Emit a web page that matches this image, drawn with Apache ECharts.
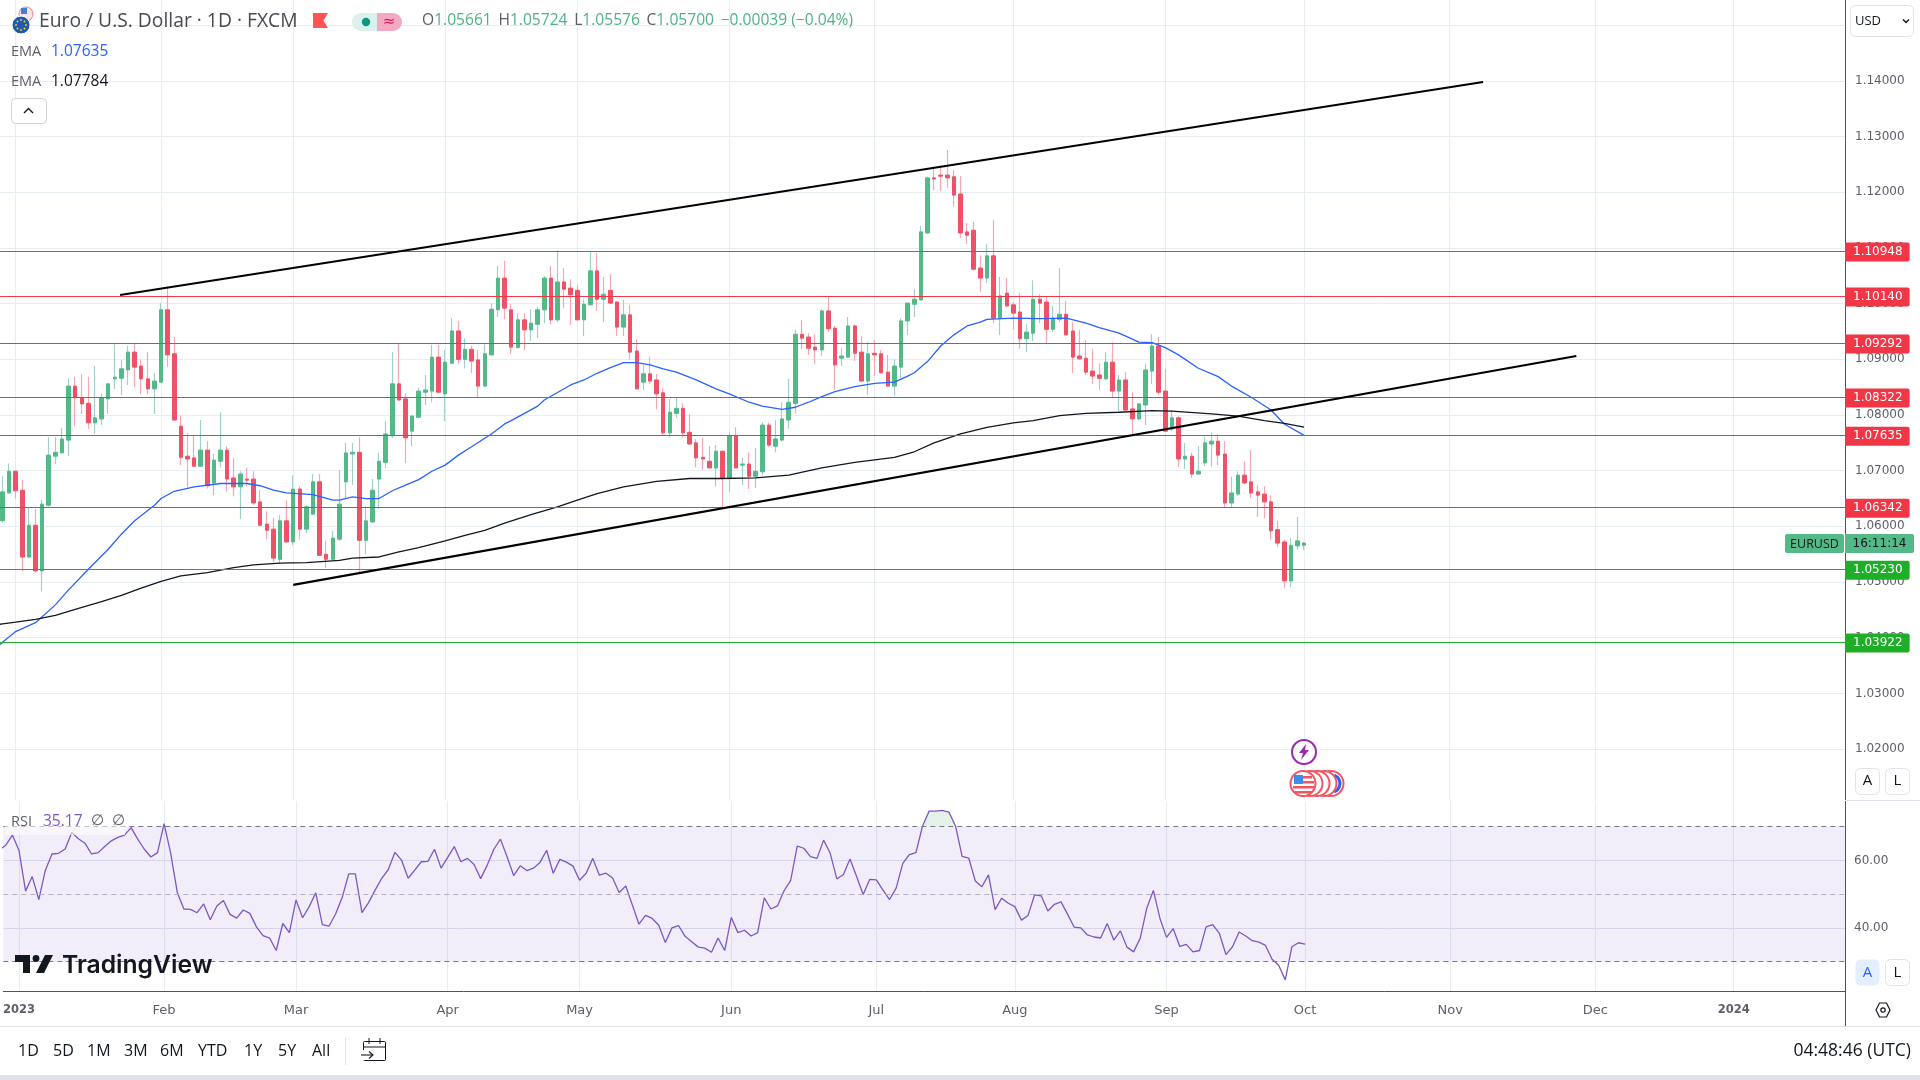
<!DOCTYPE html>
<html>
<head>
<meta charset="utf-8">
<title>EUR/USD</title>
<script src="https://cdn.jsdelivr.net/npm/echarts@6/dist/echarts.min.js"></script>
<style>
html, body { margin: 0; padding: 0; background: #fff; }
#chart { width: 1920px; height: 1080px; }
</style>
</head>
<body>
<div id="chart"></div>
<script>
// bar number 0 is 2 Jan 2023, weekdays only
var firstBar = -2;

var opens = [
  1.0610,1.0660,1.0699,1.0665,1.0545,1.0602,1.0520,1.0638,1.0726,1.0732,
  1.0755,1.0852,1.0831,1.0821,1.0786,1.0793,1.0829,1.0865,1.0866,1.0881,
  1.0913,1.0888,1.0865,1.0847,1.0859,1.0989,1.0910,1.0780,1.0726,1.0723,
  1.0708,1.0737,1.0678,1.0717,1.0737,1.0687,1.0671,1.0685,1.0685,1.0644,
  1.0604,1.0595,1.0541,1.0610,1.0572,1.0667,1.0595,1.0622,1.0680,1.0550,
  1.0541,1.0577,1.0680,1.0730,1.0733,1.0575,1.0608,1.0685,1.0715,1.0763,
  1.0856,1.0829,1.0771,1.0796,1.0841,1.0843,1.0904,1.0838,1.0893,1.0951,
  1.0900,1.0918,1.0899,1.0852,1.0908,1.0989,1.1046,1.0989,1.0921,1.0971,
  1.0953,1.0963,1.0989,1.1046,1.0971,1.1039,1.1028,1.1024,1.0971,1.0998,
  1.1059,1.1008,1.1024,1.1003,1.0958,1.0980,1.0915,1.0859,1.0874,1.0863,
  1.0840,1.0768,1.0803,1.0812,1.0769,1.0750,1.0724,1.0717,1.0705,1.0735,
  1.0687,1.0763,1.0710,1.0712,1.0690,1.0698,1.0782,1.0744,1.0755,1.0791,
  1.0821,1.0945,1.0940,1.0922,1.0917,1.0987,1.0956,1.0902,1.0904,1.0960,
  1.0913,1.0861,1.0911,1.0910,1.0877,1.0852,1.0886,1.0969,1.0999,1.1007,
  1.1127,1.1226,1.1231,1.1231,1.1228,1.1197,1.1129,1.1132,1.1064,1.1046,
  1.1086,1.0974,1.1019,1.0998,1.0985,1.0937,1.0947,1.1008,1.1003,1.0954,
  1.0972,1.0981,1.0951,1.0906,1.0902,1.0879,1.0872,1.0865,1.0895,1.0843,
  1.0863,1.0811,1.0793,1.0818,1.0879,1.0924,1.0843,1.0775,1.0795,1.0721,
  1.0726,1.0694,1.0714,1.0748,1.0753,1.0730,1.0642,1.0658,1.0692,1.0680,
  1.0662,1.0658,1.0644,1.0594,1.0572,1.0502,1.0565,1.05661
];
var closes = [
  1.0662,1.0699,1.0664,1.0545,1.0602,1.0520,1.0640,1.0728,1.0733,1.0757,
  1.0852,1.0831,1.0820,1.0786,1.0795,1.0831,1.0856,1.0868,1.0883,1.0913,
  1.0886,1.0865,1.0847,1.0861,1.0989,1.0908,1.0791,1.0724,1.0721,1.0708,
  1.0737,1.0673,1.0719,1.0737,1.0685,1.0671,1.0694,1.0683,1.0642,1.0602,
  1.0593,1.0543,1.0610,1.0572,1.0667,1.0595,1.0635,1.0680,1.0548,1.0541,
  1.0579,1.0640,1.0732,1.0733,1.0575,1.0610,1.0665,1.0717,1.0766,1.0856,
  1.0827,1.0759,1.0798,1.0843,1.0845,1.0904,1.0841,1.0895,1.0951,1.0900,
  1.0918,1.0897,1.0852,1.0910,1.0990,1.1046,1.0992,1.0922,1.0971,1.0953,
  1.0965,1.0989,1.1046,1.0971,1.1039,1.1026,1.1016,1.0971,1.0999,1.1059,
  1.1008,1.1017,1.1001,1.0958,1.0980,1.0913,1.0847,1.0874,1.0861,1.0838,
  1.0768,1.0805,1.0812,1.0768,1.0748,1.0723,1.0721,1.0705,1.0735,1.0687,
  1.0763,1.0705,1.0712,1.0690,1.0699,1.0782,1.0746,1.0757,1.0793,1.0823,
  1.0945,1.0938,1.0920,1.0917,1.0987,1.0955,1.0890,1.0906,1.0960,1.0911,
  1.0861,1.0910,1.0908,1.0876,1.0852,1.0888,1.0969,1.1001,1.1008,1.1129,
  1.1226,1.1224,1.1229,1.1226,1.1195,1.1127,1.1123,1.1062,1.1046,1.1086,
  1.0974,1.1014,1.0996,1.0983,1.0937,1.0949,1.1008,1.1001,1.0954,1.0974,
  1.0981,1.0944,1.0904,1.0901,1.0877,1.0870,1.0866,1.0895,1.0843,1.0863,
  1.0809,1.0793,1.0820,1.0881,1.0924,1.0841,1.0771,1.0795,1.0721,1.0726,
  1.0694,1.0699,1.0750,1.0753,1.0728,1.0642,1.0660,1.0692,1.0678,1.0660,
  1.0656,1.0644,1.0592,1.0570,1.0502,1.0566,1.0574,1.05700
];
var lows = [
  1.0607,1.0659,1.0650,1.0520,1.0542,1.0517,1.0483,1.0636,1.0712,1.0731,
  1.0726,1.0780,1.0802,1.0775,1.0766,1.0782,1.0802,1.0847,1.0836,1.0854,
  1.0850,1.0838,1.0838,1.0802,1.0858,1.0886,1.0790,1.0710,1.0670,1.0707,
  1.0707,1.0668,1.0656,1.0706,1.0662,1.0654,1.0613,1.0672,1.0639,1.0600,
  1.0577,1.0536,1.0534,1.0571,1.0566,1.0577,1.0588,1.0620,1.0547,1.0525,
  1.0539,1.0574,1.0651,1.0674,1.0516,1.0550,1.0606,1.0631,1.0705,1.0759,
  1.0825,1.0714,1.0744,1.0795,1.0818,1.0823,1.0839,1.0789,1.0892,1.0892,
  1.0884,1.0875,1.0832,1.0851,1.0907,1.0976,1.0972,1.0910,1.0920,1.0917,
  1.0933,1.0938,1.0965,1.0963,1.0967,1.0992,1.0962,1.0970,1.0942,1.0997,
  1.0987,1.0967,1.0999,1.0942,1.0942,1.0900,1.0846,1.0845,1.0856,1.0810,
  1.0762,1.0760,1.0795,1.0760,1.0746,1.0706,1.0701,1.0704,1.0672,1.0634,
  1.0662,1.0704,1.0674,1.0667,1.0669,1.0692,1.0742,1.0733,1.0753,1.0775,
  1.0803,1.0918,1.0908,1.0892,1.0906,1.0949,1.0845,1.0888,1.0902,1.0897,
  1.0860,1.0836,1.0870,1.0874,1.0851,1.0834,1.0866,1.0944,1.0976,1.1005,
  1.1126,1.1204,1.1202,1.1208,1.1174,1.1118,1.1107,1.1060,1.1021,1.1037,
  1.0965,1.0944,1.0994,1.0953,1.0919,1.0913,1.0933,1.0965,1.0929,1.0949,
  1.0967,1.0943,1.0875,1.0899,1.0872,1.0856,1.0845,1.0863,1.0832,1.0804,
  1.0807,1.0764,1.0791,1.0782,1.0856,1.0836,1.0770,1.0771,1.0707,1.0703,
  1.0687,1.0693,1.0708,1.0707,1.0710,1.0633,1.0633,1.0655,1.0676,1.0651,
  1.0617,1.0615,1.0576,1.0563,1.0489,1.0491,1.0558,1.05576
];
var highs = [
  1.0690,1.0713,1.0700,1.0683,1.0635,1.0631,1.0648,1.0760,1.0760,1.0777,
  1.0866,1.0869,1.0873,1.0869,1.0888,1.0839,1.0857,1.0928,1.0899,1.0924,
  1.0929,1.0900,1.0913,1.0875,1.1001,1.1032,1.0940,1.0799,1.0767,1.0762,
  1.0791,1.0753,1.0730,1.0805,1.0744,1.0723,1.0699,1.0705,1.0699,1.0665,
  1.0627,1.0615,1.0620,1.0646,1.0692,1.0672,1.0638,1.0694,1.0694,1.0574,
  1.0592,1.0701,1.0750,1.0750,1.0760,1.0636,1.0685,1.0732,1.0789,1.0913,
  1.0929,1.0839,1.0800,1.0849,1.0872,1.0926,1.0926,1.0917,1.0974,1.0969,
  1.0938,1.0924,1.0917,1.0927,1.1001,1.1068,1.1077,1.0999,1.0983,1.0983,
  1.0990,1.0994,1.1050,1.1068,1.1096,1.1064,1.1044,1.1033,1.1008,1.1093,
  1.1091,1.1048,1.1053,1.1004,1.1007,1.0998,1.0936,1.0890,1.0904,1.0874,
  1.0849,1.0829,1.0832,1.0821,1.0802,1.0757,1.0759,1.0744,1.0746,1.0736,
  1.0769,1.0778,1.0723,1.0733,1.0741,1.0787,1.0786,1.0791,1.0823,1.0865,
  1.0953,1.0971,1.0947,1.0945,1.0990,1.1012,1.0960,1.0920,1.0976,1.0963,
  1.0942,1.0931,1.0935,1.0917,1.0908,1.0900,1.0974,1.1002,1.1026,1.1140,
  1.1228,1.1245,1.1249,1.1276,1.1240,1.1229,1.1145,1.1147,1.1087,1.1107,
  1.1150,1.1048,1.1046,1.1003,1.1019,1.0963,1.1042,1.1017,1.1014,1.0996,
  1.1064,1.1005,1.0967,1.0953,1.0935,1.0919,1.0893,1.0913,1.0931,1.0872,
  1.0877,1.0841,1.0821,1.0892,1.0945,1.0940,1.0883,1.0809,1.0798,1.0750,
  1.0732,1.0744,1.0761,1.0768,1.0766,1.0753,1.0689,1.0699,1.0717,1.0737,
  1.0674,1.0672,1.0656,1.0610,1.0576,1.0579,1.0617,1.05724
];
// rsi starts one bar earlier, that candle is off screen
var firstRsiBar = -3;
var rsiValues = [
  63.1,
  64.5,67.5,62.9,50.9,55.2,48.4,57.1,61.9,62.1,63.4,
  68.3,66.4,65.1,61.9,62.3,64.1,65.8,66.8,67.5,69.7,
  66.3,63.3,61.0,62.3,70.9,62.1,50.5,45.6,45.5,44.5,
  47.1,42.4,46.5,48.1,44.0,42.9,45.3,44.3,40.3,37.7,
  37.0,33.3,41.3,38.6,48.3,43.0,46.3,50.4,41.0,40.5,
  44.1,49.0,56.0,56.0,44.5,47.5,51.2,54.7,57.3,62.4,
  60.1,54.7,57.1,59.6,59.7,63.3,57.7,60.9,64.1,59.6,
  60.6,58.8,54.6,58.6,63.3,66.3,61.1,55.5,58.4,57.0,
  57.7,59.4,63.0,56.2,60.3,59.5,58.3,54.1,56.2,60.6,
  55.6,56.2,54.8,50.5,52.4,46.8,41.1,43.7,42.8,40.8,
  35.7,40.0,40.7,37.5,35.9,34.3,34.0,32.8,37.0,33.3,
  43.1,38.6,39.3,37.6,38.6,48.9,45.6,46.5,51.0,54.0,
  64.2,63.6,61.1,60.6,66.0,62.1,54.5,55.8,60.4,55.2,
  49.9,54.4,54.2,51.2,48.4,51.8,59.1,61.7,62.3,70.2,
  74.6,74.6,74.8,74.3,70.2,61.2,60.7,53.9,52.2,55.7,
  45.4,48.8,47.3,46.3,42.3,43.7,49.8,49.5,45.0,47.0,
  47.7,44.0,40.2,40.0,37.9,37.3,37.0,41.3,36.4,39.1,
  34.3,32.9,36.9,45.8,51.1,42.8,37.2,39.8,34.5,35.1,
  32.9,33.3,40.3,41.0,38.4,32.1,34.4,38.8,37.6,36.2,
  35.8,34.8,30.7,28.9,24.6,34.4,35.6,35.17
];

// ema curves, read every few bars
var emaFastBars = [-3,-2,0,3,6,8,11,14,16,18,21,22,24,27,31,35,37,39,41,45,48,49,51,53,55,57,59,61,63,65,67,69,
  72,74,75,79,80,84,86,88,90,92,94,96,98,100,103,106,108,111,113,116,118,120,122,124,127,130,133,135,
  136,138,140,142,144,146,147,151,155,159,162,164,167,170,172,174,176,179,182,184,187,190,192,195];
var emaFastValues = [1.0381,1.0392,1.0411,1.0427,1.0459,1.0486,1.0523,1.0559,1.0586,1.0610,1.0638,1.0650,1.0663,1.0671,1.0677,1.0677,1.0673,1.0665,1.0660,1.0657,1.0647,1.0647,1.0653,1.0650,1.0650,1.0664,1.0674,1.0684,1.0699,1.0710,1.0728,1.0743,
  1.0766,1.0784,1.0790,1.0816,1.0827,1.0854,1.0863,1.0875,1.0885,1.0894,1.0894,1.0890,1.0883,1.0877,1.0863,1.0847,1.0838,1.0823,1.0816,1.0810,1.0814,1.0823,1.0833,1.0842,1.0851,1.0857,1.0859,1.0870,
  1.0876,1.0896,1.0924,1.0944,1.0960,1.0967,1.0972,1.0974,1.0973,1.0974,1.0965,1.0957,1.0947,1.0931,1.0930,1.0921,1.0908,1.0884,1.0869,1.0852,1.0832,1.0809,1.0784,1.07635];
var emaSlowBars = [-3,-2,0,3,6,9,13,16,19,22,25,29,33,36,40,44,49,51,55,58,61,65,68,
  71,74,78,82,85,88,92,97,102,107,112,117,122,127,133,136,
  139,143,147,151,154,158,162,167,172,175,181,185,189,192,195];
var emaSlowValues = [1.0423,1.0425,1.0428,1.0433,1.0440,1.0451,1.0465,1.0476,1.0489,1.0501,1.0511,1.0517,1.0526,1.0531,1.0534,1.0535,1.0539,1.0543,1.0545,1.0554,1.0562,1.0574,1.0584,
  1.0593,1.0606,1.0621,1.0635,1.0647,1.0659,1.0671,1.0681,1.0686,1.0686,1.0687,1.0692,1.0705,1.0715,1.0724,1.0734,
  1.0750,1.0766,1.0778,1.0786,1.0790,1.0799,1.0803,1.0805,1.0808,1.0807,1.0802,1.0798,1.0790,1.0785,1.07784];

// drawn trend lines: bar number, price
var upperTrendBars = [15.8, 222.1];
var upperTrendPrices = [1.10156, 1.13982];
var lowerTrendBars = [42, 236.2];
var lowerTrendPrices = [1.0495, 1.0906];

var redLevels = [1.10948, 1.10140, 1.09292, 1.08322, 1.07635, 1.06342];
var greenLevels = [1.05230, 1.03922];

var priceTicks = [1.02,1.03,1.04,1.05,1.06,1.07,1.08,1.09,1.10,1.11,1.12,1.13,1.14,1.15];
var rsiTicks = [40, 60];
var timeTickBars = [0,22,42,65,85,108,130,151,174,195,217,239,260];
var timeTickLabels = ['2023','Feb','Mar','Apr','May','Jun','Jul','Aug','Sep','Oct','Nov','Dec','2024'];
var rangeButtons = [['1D',18],['5D',53],['1M',87],['3M',124],['6M',160],['YTD',198],['1Y',244],['5Y',278],['All',312]];

var GREEN = '#53b987', RED = '#ef5166', WICK_GREEN = '#a3cfc9', WICK_RED = '#f7a6b2';
var GRID = '#e6edf3', AXIS = '#50535e', TEXT = '#5d606b', PANE = '#e0e3eb';
var FONT = 'DejaVu Sans';
var UIFONT = 'Open Sans';
var BAR_MIN = -2.376, BAR_MAX = 276.87;

var wickData = [], bodyData = [];
for (var i = 0; i < opens.length; i++) {
    var bar = firstBar + i;
    wickData.push([bar, opens[i], closes[i], lows[i], highs[i]]);
    bodyData.push([bar, opens[i], closes[i], Math.min(opens[i], closes[i]), Math.max(opens[i], closes[i])]);
}
var rsiData = rsiValues.map(function (v, i) { return [firstRsiBar + i, v]; });
var rsiHigh = rsiData.filter(function (p) { return p[0] >= 137 && p[0] <= 142; });

function zip(a, b) {
    return a.map(function (v, i) { return [v, b[i]]; });
}

function levelLine(v, color) {
    return {
        yAxis: v,
        lineStyle: { color: color, width: 1.2, type: 'solid' },
        label: {
            show: true, position: 'end', distance: 0, offset: [0, 1],
            formatter: v.toFixed(5), color: '#fff',
            fontFamily: FONT, fontSize: 12, lineHeight: 13,
            backgroundColor: color, borderRadius: [0, 2, 2, 0],
            padding: [3, 7, 3, 8]
        }
    };
}

function txt(x, y, s, o) {
    o = o || {};
    return {
        type: 'text', z: o.z || 100, x: x, y: y,
        style: {
            text: s, fill: o.color || '#131722',
            font: (o.weight || 'normal') + ' ' + (o.size || 13) + 'px "' + (o.family || UIFONT) + '"',
            textAlign: o.align || 'left', textVerticalAlign: 'middle', verticalAlign: 'middle'
        }
    };
}
function box(x, y, w, h, fill, stroke, r, z) {
    return {
        type: 'rect', z: z || 99,
        shape: { x: x, y: y, width: w, height: h, r: r || 0 },
        style: { fill: fill, stroke: stroke || null, lineWidth: 1 }
    };
}
function seg(pts, color, width, z) {
    return { type: 'polyline', z: z || 100, shape: { points: pts }, style: { stroke: color, lineWidth: width || 1, fill: null } };
}
function poly(pts, color, z) {
    return { type: 'polygon', z: z || 100, shape: { points: pts }, style: { fill: color } };
}
function dot(x, y, r, fill, stroke, w, z) {
    return { type: 'circle', z: z || 100, shape: { cx: x, cy: y, r: r }, style: { fill: fill, stroke: stroke || null, lineWidth: w || 1 } };
}

var VAL = '#4fb286';
var graphics = [
    // legend icons
    dot(26, 14, 7, '#fbe3e5', '#e9808a', 1),
    box(21, 8, 6, 6, '#3d7fd9', null, 0, 101),
    dot(21, 25, 9, '#1e5bb0', '#fff', 1, 102),
    dot(21, 20, 0.9, '#f5d327', null, 0, 103),
    dot(26, 25, 0.9, '#f5d327', null, 0, 103),
    dot(21, 30, 0.9, '#f5d327', null, 0, 103),
    dot(16, 25, 0.9, '#f5d327', null, 0, 103),
    dot(24.5, 21.5, 0.9, '#f5d327', null, 0, 103),
    dot(17.5, 21.5, 0.9, '#f5d327', null, 0, 103),
    dot(24.5, 28.5, 0.9, '#f5d327', null, 0, 103),
    dot(17.5, 28.5, 0.9, '#f5d327', null, 0, 103),
    txt(39, 22, 'Euro / U.S. Dollar \u00b7 1D \u00b7 FXCM', { size: 19.3, color: '#484b55' }),
    poly([[313, 13], [328, 13], [323.5, 20.5], [328, 28], [313, 28]], '#ff5252'),
    box(352, 13, 25, 18, '#dcf0ee', null, [9, 0, 0, 9]),
    box(377, 13, 25, 18, '#f3a9c4', null, [0, 9, 9, 0]),
    dot(366, 22, 4.2, '#089981', null, 0, 101),
    txt(389, 22, '\u2248', { size: 15, color: '#d81b60', align: 'center', family: FONT }),
    {
        type: 'text', z: 100, x: 422, y: 21,
        style: {
            text: '{g|O}{v|1.05661}  {g|H}{v|1.05724}  {g|L}{v|1.05576}  {g|C}{v|1.05700}  {v|\u22120.00039 (\u22120.04%)}',
            textVerticalAlign: 'middle', verticalAlign: 'middle',
            rich: {
                g: { fill: '#5d606b', font: '15.6px "' + UIFONT + '"' },
                v: { fill: VAL, font: '15.6px "' + UIFONT + '"' }
            }
        }
    },
    txt(11, 52, 'EMA', { size: 14.5, color: '#5d606b' }),
    txt(51, 52, '1.07635', { size: 15.5, color: '#2962ff' }),
    txt(11, 82, 'EMA', { size: 14.5, color: '#5d606b' }),
    txt(51, 82, '1.07784', { size: 15.5, color: '#131722' }),
    box(11.5, 98.5, 35, 25, '#fff', '#d1d4dc', 4),
    seg([[24, 113], [28.5, 108.5], [33, 113]], '#131722', 1.4),

    // right hand scale chrome
    box(1850.5, 5.5, 63, 31, '#fff', '#e0e3eb', 5),
    txt(1855, 21, 'USD', { size: 13, family: UIFONT }),
    seg([[1903, 19.5], [1906, 22.5], [1909, 19.5]], '#131722', 1.5),
    box(1785, 534, 59, 19, GREEN, null, 2),
    txt(1814.5, 544, 'EURUSD', { size: 12.5, color: '#131722', align: 'center', family: UIFONT }),
    box(1845, 534, 69, 19, GREEN, null, [0, 2, 2, 0]),
    txt(1879.5, 544, '16:11:14', { size: 12, color: '#131722', align: 'center', family: FONT }),
    box(1855.5, 768.5, 24, 26, '#fff', '#e0e3eb', 5),
    txt(1867.5, 781, 'A', { size: 15, align: 'center' }),
    box(1885.5, 768.5, 24, 26, '#fff', '#e0e3eb', 5),
    txt(1897.5, 781, 'L', { size: 15, align: 'center' }),
    box(1855.5, 959.5, 24, 26, '#e3effd', null, 5),
    txt(1867.5, 973, 'A', { size: 15, color: '#2962ff', align: 'center' }),
    box(1885.5, 959.5, 24, 26, '#fff', '#e0e3eb', 5),
    txt(1897.5, 973, 'L', { size: 15, align: 'center' }),

    // panes
    seg([[1845, 800.5], [1920, 800.5]], PANE, 1),
    seg([[1845.5, 991], [1845.5, 1026]], AXIS, 1),
    seg([[0, 1026.5], [1920, 1026.5]], PANE, 1),
    box(0, 1075, 1920, 5, '#dfe3ec', null, 0),
    { type: 'polygon', z: 100, shape: { points: [[1876, 1010], [1879.5, 1003], [1886.5, 1003], [1890, 1010], [1886.5, 1017], [1879.5, 1017]] }, style: { fill: '#fff', stroke: '#131722', lineWidth: 1.2 } },
    dot(1883, 1010, 2.2, '#fff', '#131722', 1.2),

    // rsi legend and logo
    box(5, 815, 120, 20, 'rgba(255,255,255,0.55)', null, 0, 90),
    txt(11, 821.5, 'RSI', { size: 14.5, color: '#5d606b' }),
    txt(43, 821.5, '35.17', { size: 15.5, color: '#7e57c2' }),
    txt(91, 821.5, '\u2205', { size: 15, color: '#5d606b', family: FONT }),
    txt(112, 821.5, '\u2205', { size: 15, color: '#5d606b', family: FONT }),
    poly([[15, 955], [30, 955], [30, 973], [23, 973], [23, 962], [15, 962]], '#131722'),
    dot(36, 958.5, 3.4, '#131722'),
    poly([[45, 955], [53, 955], [44, 973], [36, 973]], '#131722'),
    txt(62, 966, 'TradingView', { size: 24.7, weight: '600', family: 'Inter' }),

    // economic events
    dot(1304, 752, 12, '#fff', '#9c27b0', 2),
    poly([[1306, 744], [1299, 753], [1303, 753], [1301, 760], [1309, 750], [1305, 750]], '#9c27b0', 101),
    dot(1331, 783.5, 12.5, '#fff', '#f7525f', 2),
    { type: 'arc', z: 100, shape: { cx: 1331, cy: 783.5, r: 9, startAngle: -1.2, endAngle: 1.2 }, style: { stroke: '#2962ff', lineWidth: 3, fill: null } },
    dot(1324, 783.5, 12.5, '#fff', '#f7525f', 2),
    dot(1317, 783.5, 12.5, '#fff', '#f7525f', 2),
    dot(1310, 783.5, 12.5, '#fff', '#f7525f', 2),
    dot(1303, 783.5, 12.5, '#fff', '#f7525f', 2),
    box(1294, 775, 9, 9, '#3c8ce8', null, 0, 101),
    box(1303, 776, 9, 2.5, '#f7525f', null, 0, 101),
    box(1303, 781, 11, 2.5, '#f7525f', null, 0, 101),
    box(1293, 786, 21, 2.5, '#f7525f', null, 0, 101),
    box(1295, 791, 17, 2.5, '#f7525f', null, 0, 101),

    // toolbar
    txt(1911, 1051, '04:48:46 (UTC)', { size: 17.5, align: 'right' }),
    seg([[345.5, 1037], [345.5, 1065]], PANE, 1),
    box(363.5, 1041.5, 22, 19, null, '#131722', 1, 100),
    seg([[363, 1047], [386, 1047]], '#131722', 1),
    seg([[369, 1038], [369, 1044]], '#131722', 1),
    seg([[380, 1038], [380, 1044]], '#131722', 1),
    box(358, 1050, 8, 10, '#fff', null, 0, 100),
    seg([[361, 1055], [373, 1055]], '#131722', 1.1, 101),
    seg([[369, 1051.5], [373, 1055], [369, 1058.5]], '#131722', 1.1, 101)
];
rangeButtons.forEach(function (b) {
    graphics.push(txt(b[1], 1051, b[0], { size: 16 }));
});

var chart = echarts.init(document.getElementById('chart'));

chart.setOption({
    animation: false,
    backgroundColor: '#fff',
    textStyle: { fontFamily: FONT },
    grid: [
        { left: 0, right: 75, top: 0, height: 800 },
        { left: 0, right: 75, top: 801, height: 190 }
    ],
    xAxis: [
        {
            type: 'value', gridIndex: 0, min: BAR_MIN, max: BAR_MAX, scale: true,
            axisLine: { show: false, onZero: false }, axisLabel: { show: false },
            axisTick: { show: false, customValues: timeTickBars },
            splitLine: { show: true, lineStyle: { color: GRID } }
        },
        {
            type: 'value', gridIndex: 1, min: BAR_MIN, max: BAR_MAX, scale: true,
            axisLine: { show: true, onZero: false, lineStyle: { color: AXIS, width: 1 } },
            axisTick: { show: false, customValues: timeTickBars },
            axisLabel: {
                show: true, customValues: timeTickBars, margin: 13, fontSize: 13, color: TEXT, fontFamily: FONT,
                showMinLabel: true, showMaxLabel: true, hideOverlap: false,
                formatter: function (v) {
                    var s = timeTickLabels[timeTickBars.indexOf(v)];
                    return s === '2023' || s === '2024' ? '{y|' + s + '}' : s;
                },
                rich: { y: { fontWeight: 'bold', fontSize: 11.5, color: TEXT, fontFamily: FONT } }
            },
            splitLine: { show: true, lineStyle: { color: GRID } }
        }
    ],
    yAxis: [
        {
            type: 'value', gridIndex: 0, position: 'right', min: 1.01085, max: 1.15455, scale: true,
            axisLine: { show: true, onZero: false, lineStyle: { color: AXIS, width: 1 } },
            axisTick: { show: false, customValues: priceTicks },
            axisLabel: {
                customValues: priceTicks, margin: 10, fontSize: 12, color: TEXT, fontFamily: FONT,
                showMinLabel: true, showMaxLabel: true, padding: [5, 0, 0, 0],
                formatter: function (v) { return v.toFixed(5); }
            },
            splitLine: { show: true, lineStyle: { color: GRID, width: 1 } }
        },
        {
            type: 'value', gridIndex: 1, position: 'right', min: 21.3, max: 77.6, scale: true,
            axisLine: { show: true, onZero: false, lineStyle: { color: AXIS, width: 1 } },
            axisTick: { show: false, customValues: rsiTicks },
            axisLabel: {
                customValues: rsiTicks, margin: 9, fontSize: 12, color: TEXT, fontFamily: FONT, padding: [3, 0, 0, 0],
                formatter: function (v) { return v.toFixed(2); }
            },
            splitLine: { show: true, lineStyle: { color: '#dfe3f0' } }
        }
    ],
    series: [
        {
            name: 'wicks', type: 'candlestick', xAxisIndex: 0, yAxisIndex: 0, data: wickData,
            barWidth: 1, z: 2, clip: true,
            itemStyle: { color: WICK_GREEN, color0: WICK_RED, borderColor: WICK_GREEN, borderColor0: WICK_RED, borderWidth: 1.2 }
        },
        {
            name: 'bodies', type: 'candlestick', xAxisIndex: 0, yAxisIndex: 0, data: bodyData,
            barWidth: 4, z: 3, clip: true,
            itemStyle: { color: GREEN, color0: RED, borderColor: GREEN, borderColor0: RED, borderWidth: 1 }
        },
        {
            name: 'EMA fast', type: 'line', xAxisIndex: 0, yAxisIndex: 0, data: zip(emaFastBars, emaFastValues),
            showSymbol: false, z: 6, lineStyle: { color: '#2962ff', width: 1.3 }
        },
        {
            name: 'EMA slow', type: 'line', xAxisIndex: 0, yAxisIndex: 0, data: zip(emaSlowBars, emaSlowValues),
            showSymbol: false, z: 6, lineStyle: { color: '#131722', width: 1.3 }
        },
        {
            name: 'levels', type: 'line', xAxisIndex: 0, yAxisIndex: 0, data: [], z: 7,
            markLine: {
                silent: true, symbol: 'none', animation: false, z: 7, precision: 6,
                data: redLevels.map(function (v) { return levelLine(v, '#f23645'); })
                    .concat(greenLevels.map(function (v) { return levelLine(v, '#1fae27'); }))
            }
        },
        {
            name: 'upper trend', type: 'line', xAxisIndex: 0, yAxisIndex: 0, data: zip(upperTrendBars, upperTrendPrices),
            showSymbol: false, z: 8, lineStyle: { color: '#000', width: 2.2 }
        },
        {
            name: 'lower trend', type: 'line', xAxisIndex: 0, yAxisIndex: 0, data: zip(lowerTrendBars, lowerTrendPrices),
            showSymbol: false, z: 8, lineStyle: { color: '#000', width: 2.2 }
        },
        {
            name: 'RSI high', type: 'line', xAxisIndex: 1, yAxisIndex: 1, data: rsiHigh, z: 3,
            showSymbol: false, lineStyle: { width: 0 },
            areaStyle: { origin: 70, color: '#e4f3ea', opacity: 1 }
        },
        {
            name: 'RSI', type: 'line', xAxisIndex: 1, yAxisIndex: 1, data: rsiData, z: 4,
            showSymbol: false, lineStyle: { color: '#7e57c2', width: 1.3 },
            markArea: {
                silent: true, animation: false,
                itemStyle: { color: 'rgba(126,87,194,0.1)' },
                data: [[{ xAxis: BAR_MIN, yAxis: 70 }, { xAxis: BAR_MAX, yAxis: 30 }]]
            },
            markLine: {
                silent: true, symbol: 'none', animation: false, label: { show: false },
                data: [
                    { yAxis: 70, lineStyle: { color: '#787b86', type: [5, 4], width: 1.2 } },
                    { yAxis: 50, lineStyle: { color: '#b5b0bf', type: [5, 4], width: 1.2 } },
                    { yAxis: 30, lineStyle: { color: '#787b86', type: [5, 4], width: 1.2 } }
                ]
            }
        }
    ],
    graphic: { elements: graphics }
});
</script>
</body>
</html>
